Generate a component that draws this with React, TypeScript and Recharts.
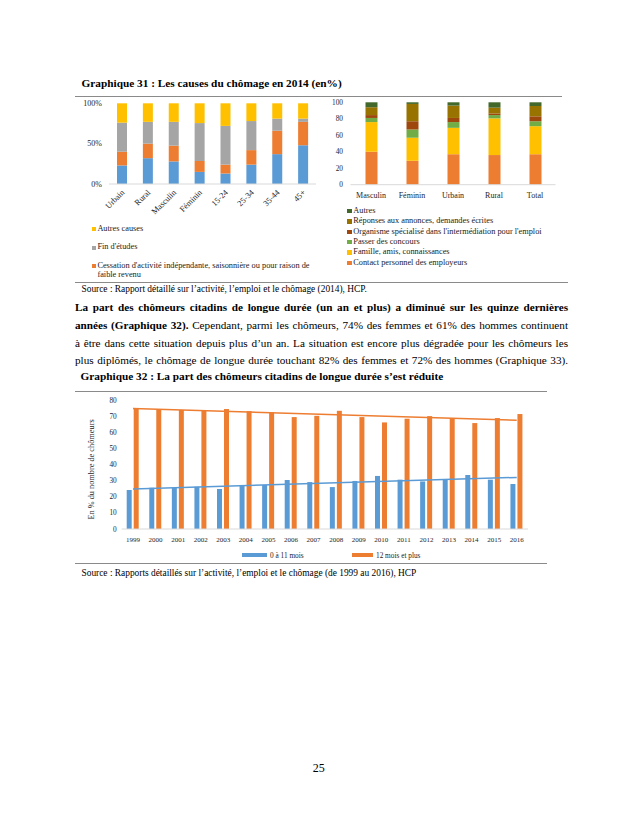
import React from 'react';
import { BarChart, Bar, XAxis, YAxis, Legend, ReferenceLine } from 'recharts';

const FONT = '"Liberation Serif", "Times New Roman", serif';
const AXIS_COLOR = '#262626';

// ---------- Graphique 31 (gauche) : causes du chômage ----------
const causeCategories = ['Urbain', 'Rural', 'Masculin', 'Féminin', '15-24', '25-34', '35-44', '45+'];
const causeLicenciement = [23, 32, 28, 15, 13, 24, 37, 48];
const causeCessation = [17, 18, 19.5, 13.5, 11, 18, 29, 29];
const causeFinEtudes = [36, 27, 29.5, 47, 48, 36, 15, 4];
const causeAutres = [24, 23, 23, 24.5, 28, 22, 19, 19];
const causeTicks = [0, 0.5, 1];
const causeLegendOrder = ['autres', 'finEtudes', 'cessation'];

// ---------- Graphique 31 (droite) : moyens de recherche ----------
const methodCategories = ['Masculin', 'Féminin', 'Urbain', 'Rural', 'Total'];
const methodContact = [40, 29, 37, 36, 37];
const methodFamille = [36, 28, 32, 44.5, 34];
const methodConcours = [5, 10, 7, 4, 6];
const methodOrganisme = [3.5, 10, 5, 2, 6];
const methodReponses = [9.5, 21, 15, 7, 12.5];
const methodAutres = [6, 2, 4, 6.5, 4.5];
const methodTicks = [0, 20, 40, 60, 80, 100];
const methodLegendOrder = ['autres', 'reponses', 'organisme', 'concours', 'famille', 'contact'];

// ---------- Graphique 32 : durée du chômage ----------
const years = ['1999', '2000', '2001', '2002', '2003', '2004', '2005', '2006', '2007', '2008', '2009', '2010', '2011', '2012', '2013', '2014', '2015', '2016'];
const shortTerm = [24.2, 25.6, 25.8, 26.2, 24.8, 26.7, 27.3, 30.4, 29.1, 26.0, 29.8, 32.9, 30.6, 29.5, 31.0, 33.5, 30.6, 27.9];
const longTerm = [74.8, 74.2, 73.8, 73.6, 74.4, 73.1, 72.3, 69.4, 70.2, 73.3, 69.4, 66.1, 68.4, 70.0, 68.8, 65.7, 68.8, 71.3];
const trendYears = ['1999', '2016'];
const trendShortEnds = [24.8, 32.0];
const trendLongEnds = [74.8, 67.4];
const durTicks = [0, 10, 20, 30, 40, 50, 60, 70, 80];
const durLegendOrder = ['short', 'long'];

const causeData = causeCategories.map((name, i) => ({
  name,
  licenciement: causeLicenciement[i],
  cessation: causeCessation[i],
  finEtudes: causeFinEtudes[i],
  autres: causeAutres[i],
}));

const methodData = methodCategories.map((name, i) => ({
  name,
  contact: methodContact[i],
  famille: methodFamille[i],
  concours: methodConcours[i],
  organisme: methodOrganisme[i],
  reponses: methodReponses[i],
  autres: methodAutres[i],
}));

const durData = years.map((year, i) => ({ year, short: shortTerm[i], long: longTerm[i] }));

const orderItems = (payload: any[], order: string[]) =>
  order.map((k) => (payload || []).find((p: any) => p.dataKey === k)).filter(Boolean);

const RotTick = (props: any) => {
  const { x, y, payload } = props;
  const ax = x + 3;
  const ay = y + 1;
  return (
    <text x={ax} y={ay} transform={`rotate(-45, ${ax}, ${ay})`} textAnchor="end" fontSize={8.3} fontFamily={FONT} fill={AXIS_COLOR}>
      {payload.value}
    </text>
  );
};

const LeftLegend = (props: any) => {
  const items = orderItems(props.payload, causeLegendOrder);
  return (
    <div style={{ fontFamily: FONT, fontSize: 8.3, color: '#222' }}>
      {items.map((p: any, i: number) => (
        <div key={i} style={{ display: 'flex', alignItems: 'flex-start', lineHeight: '8.8px', marginBottom: 9.9 }}>
          <span style={{ width: 4, height: 4, background: p.color, marginTop: 2.4, marginRight: 1.7, flex: 'none' }} />
          <span style={{ width: 216 }}>{p.value}</span>
        </div>
      ))}
    </div>
  );
};

const RightLegend = (props: any) => {
  const items = orderItems(props.payload, methodLegendOrder);
  return (
    <div style={{ fontFamily: FONT, fontSize: 8.3, color: '#222' }}>
      {items.map((p: any, i: number) => (
        <div key={i} style={{ display: 'flex', alignItems: 'flex-start', lineHeight: '10.4px', whiteSpace: 'nowrap' }}>
          <span style={{ width: 4.4, height: 4.4, background: p.color, marginTop: 3, marginRight: 1.6, flex: 'none' }} />
          <span>{p.value}</span>
        </div>
      ))}
    </div>
  );
};

const DurLegend = (props: any) => {
  const items = orderItems(props.payload, durLegendOrder);
  const lefts = [0, 110];
  const widths = [25, 21];
  return (
    <div style={{ position: 'relative', height: 10, fontFamily: FONT, fontSize: 7.3, color: '#222' }}>
      {items.map((p: any, i: number) => (
        <div key={i} style={{ position: 'absolute', left: lefts[i], top: 0, display: 'flex', alignItems: 'center', height: 10, whiteSpace: 'nowrap' }}>
          <span style={{ width: widths[i], height: 4, background: p.color, marginRight: 3, flex: 'none' }} />
          <span>{p.value}</span>
        </div>
      ))}
    </div>
  );
};

const DurYLabel = (props: any) => {
  const vb = props.viewBox || {};
  const cx = vb.x + 21;
  const cy = vb.y + vb.height / 2 + 5;
  return (
    <text x={cx} y={cy} transform={`rotate(-90, ${cx}, ${cy})`} textAnchor="middle" dominantBaseline="central" fontSize={8.3} fontFamily={FONT} fill={AXIS_COLOR}>
      En % du nombre de chômeurs
    </text>
  );
};

const abs = (left: number, top: number): React.CSSProperties => ({ position: 'absolute', left, top });

const Rule = ({ y, x1, x2 }: { y: number; x1: number; x2: number }) => (
  <div style={{ position: 'absolute', left: x1, top: y - 0.5, width: x2 - x1, height: 1, background: '#8a8a8a' }} />
);

const lineStyle: React.CSSProperties = {
  position: 'absolute',
  left: 75,
  width: 493,
  fontSize: 11.2,
  lineHeight: '14px',
  textAlign: 'justify',
  textAlignLast: 'justify' as any,
  color: '#000',
};

export default function App() {
  const tickStyle = { fontSize: 7.3, fontFamily: FONT, fill: AXIS_COLOR };
  return (
    <div style={{ position: 'absolute', left: 0, top: 0, width: 638, height: 826, background: '#fff', fontFamily: FONT, color: '#000', overflow: 'hidden' }}>
      {/* Titre graphique 31 */}
      <div style={{ ...abs(81.5, 76), fontSize: 11.3, fontWeight: 'bold', lineHeight: '14px', whiteSpace: 'nowrap' }}>
        Graphique 31 : Les causes du chômage en 2014 (en%)
      </div>
      <Rule y={96} x1={75} x2={562} />

      {/* Graphique 31 gauche */}
      <div style={abs(70, 95)}>
        <BarChart width={260} height={190} data={causeData} stackOffset="expand" margin={{ top: 8.3, right: 14, left: 0, bottom: 61 }} barSize={10}>
          <XAxis dataKey="name" interval={0} height={40} tickLine={false} axisLine={{ stroke: '#D9D9D9' }} tick={<RotTick />} />
          <YAxis width={39} domain={[0, 1]} ticks={causeTicks} tickFormatter={(v: number) => `${Math.round(v * 100)}%`} axisLine={false} tickLine={false} tickSize={5} tickMargin={2} tick={{ fontSize: 8, fontFamily: FONT, fill: AXIS_COLOR }} />
          <Bar dataKey="licenciement" name="Licenciement ou arrêt d'activité de l'établissement" stackId="a" fill="#5B9BD5" legendType="none" isAnimationActive={false} />
          <Bar dataKey="cessation" name="Cessation d'activité indépendante, saisonnière ou pour raison de faible revenu" stackId="a" fill="#ED7D31" isAnimationActive={false} />
          <Bar dataKey="finEtudes" name="Fin d'études" stackId="a" fill="#A5A5A5" isAnimationActive={false} />
          <Bar dataKey="autres" name="Autres causes" stackId="a" fill="#FFC000" isAnimationActive={false} />
          <Legend layout="vertical" align="center" verticalAlign="middle" content={<LeftLegend />} wrapperStyle={{ left: 21.7, top: 129.6, width: 235, height: 60 }} />
        </BarChart>
      </div>

      {/* Graphique 31 droite */}
      <div style={abs(330, 95)}>
        <BarChart width={240} height={185} data={methodData} margin={{ top: 7.3, right: 14.5, left: 0, bottom: 75.3 }} barSize={12}>
          <XAxis dataKey="name" interval={0} height={20} tickLine={false} axisLine={{ stroke: '#D9D9D9' }} tick={{ fontSize: 8, fontFamily: FONT, fill: AXIS_COLOR }} />
          <YAxis width={20.5} domain={[0, 100]} ticks={methodTicks} axisLine={false} tickLine={false} tickSize={5} tickMargin={2.5} tick={tickStyle} />
          <Bar dataKey="contact" name="Contact personnel des employeurs" stackId="m" fill="#ED7D31" isAnimationActive={false} />
          <Bar dataKey="famille" name="Famille, amis, connaissances" stackId="m" fill="#FFC000" isAnimationActive={false} />
          <Bar dataKey="concours" name="Passer des concours" stackId="m" fill="#70AD47" isAnimationActive={false} />
          <Bar dataKey="organisme" name="Organisme spécialisé dans l'intermédiation pour l'emploi" stackId="m" fill="#9E480E" isAnimationActive={false} />
          <Bar dataKey="reponses" name="Réponses aux annonces, demandes écrites" stackId="m" fill="#997300" isAnimationActive={false} />
          <Bar dataKey="autres" name="Autres" stackId="m" fill="#43682B" isAnimationActive={false} />
          <Legend layout="vertical" align="center" verticalAlign="middle" content={<RightLegend />} wrapperStyle={{ left: 17.3, top: 110.8, width: 222, height: 64 }} />
        </BarChart>
      </div>

      <Rule y={282} x1={75} x2={568} />
      <div style={{ ...abs(81.5, 283), fontSize: 9.4, lineHeight: '12px', whiteSpace: 'nowrap' }}>
        Source : Rapport détaillé sur l’activité, l’emploi et le chômage (2014), HCP.
      </div>

      {/* Paragraphe */}
      <div style={{ ...lineStyle, top: 300.3, fontWeight: 'bold' }}>
        La part des chômeurs citadins de longue durée (un an et plus) a diminué sur les quinze dernières
      </div>
      <div style={{ ...lineStyle, top: 318.3 }}>
        <b>années (Graphique 32).</b> Cependant, parmi les chômeurs, 74% des femmes et 61% des hommes continuent
      </div>
      <div style={{ ...lineStyle, top: 335.6 }}>
        à être dans cette situation depuis plus d’un an. La situation est encore plus dégradée pour les chômeurs les
      </div>
      <div style={{ ...lineStyle, top: 353.2 }}>
        plus diplômés, le chômage de longue durée touchant 82% des femmes et 72% des hommes (Graphique 33).
      </div>

      {/* Titre graphique 32 */}
      <div style={{ ...abs(80.5, 368.5), fontSize: 11.3, fontWeight: 'bold', lineHeight: '14px', whiteSpace: 'nowrap' }}>
        Graphique 32 : La part des chômeurs citadins de longue durée s’est réduite
      </div>
      <Rule y={391.5} x1={75} x2={547} />

      {/* Graphique 32 */}
      <div style={abs(70, 393)}>
        <BarChart width={490} height={175} data={durData} margin={{ top: 7, right: 32, left: 0, bottom: 23 }} barSize={5} barGap={2}>
          <XAxis dataKey="year" interval={0} height={16} tickLine={false} axisLine={{ stroke: '#D9D9D9' }} tickSize={6} tickMargin={2} tick={{ fontSize: 7, fontFamily: FONT, fill: AXIS_COLOR }} />
          <YAxis width={51.7} domain={[0, 80]} ticks={durTicks} axisLine={false} tickLine={false} tickSize={3} tickMargin={2} tick={tickStyle} label={<DurYLabel />} />
          <Bar dataKey="short" name="0 à 11 mois" fill="#5B9BD5" isAnimationActive={false} />
          <Bar dataKey="long" name="12 mois et plus" fill="#ED7D31" isAnimationActive={false} />
          <ReferenceLine segment={[{ x: trendYears[0], y: trendLongEnds[0] }, { x: trendYears[1], y: trendLongEnds[1] }]} stroke="#ED7D31" strokeWidth={1.5} />
          <ReferenceLine segment={[{ x: trendYears[0], y: trendShortEnds[0] }, { x: trendYears[1], y: trendShortEnds[1] }]} stroke="#5B9BD5" strokeWidth={1.5} />
          <Legend layout="horizontal" align="center" verticalAlign="middle" content={<DurLegend />} wrapperStyle={{ left: 172, top: 157, width: 260, height: 10 }} />
        </BarChart>
      </div>

      <Rule y={563} x1={75} x2={547} />
      <div style={{ ...abs(81.5, 567), fontSize: 9.4, lineHeight: '12px', whiteSpace: 'nowrap' }}>
        Source : Rapports détaillés sur l’activité, l’emploi et le chômage (de 1999 au 2016), HCP
      </div>

      {/* Numéro de page */}
      <div style={{ position: 'absolute', left: 288.8, width: 60, top: 760.5, textAlign: 'center', fontSize: 12, lineHeight: '15px' }}>
        25
      </div>
    </div>
  );
}
